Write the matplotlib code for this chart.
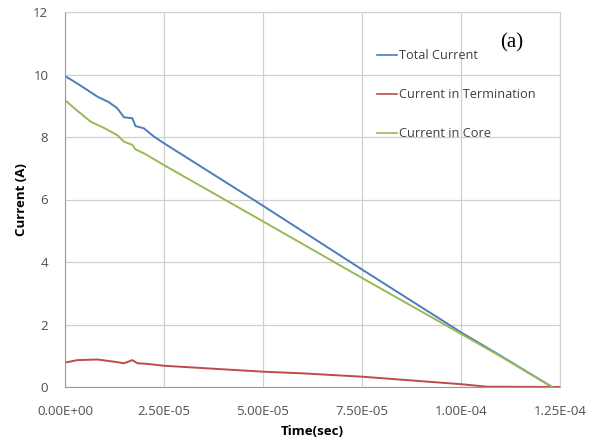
import matplotlib
matplotlib.use('Agg')
import matplotlib.pyplot as plt
import numpy as np

### data ###
t_total = [0, 0.3e-5, 0.82e-5, 1.1e-5, 1.32e-5, 1.49e-5, 1.70e-5, 1.78e-5, 1.99e-5, 2.25e-5, 2.5e-5,
           5.0e-5, 7.5e-5, 1.0e-4, 1.1e-4, 1.23e-4]
i_total = [9.95, 9.72, 9.29, 9.12, 8.92, 8.63, 8.60, 8.35, 8.28, 8.01, 7.80,
           5.80, 3.76, 1.75, 1.00, 0.0]

t_core = [0, 0.3e-5, 0.65e-5, 1.0e-5, 1.32e-5, 1.49e-5, 1.70e-5, 1.78e-5, 1.99e-5, 2.5e-5,
          5.0e-5, 7.5e-5, 1.0e-4, 1.1e-4, 1.23e-4]
i_core = [9.18, 8.85, 8.49, 8.28, 8.06, 7.85, 7.75, 7.60, 7.48, 7.10,
          5.30, 3.49, 1.70, 0.98, 0.0]

t_term = [0, 0.31e-5, 0.82e-5, 1.24e-5, 1.49e-5, 1.70e-5, 1.83e-5, 2.08e-5, 2.5e-5,
          5.0e-5, 5.95e-5, 7.5e-5, 1.0e-4, 1.065e-4, 1.25e-4]
i_term = [0.78, 0.86, 0.88, 0.81, 0.76, 0.86, 0.76, 0.74, 0.68,
          0.49, 0.44, 0.33, 0.09, 0.01, 0.0]

labels = ['Total Current', 'Current in Termination', 'Current in Core']
xticks = [0, 2.5e-5, 5e-5, 7.5e-5, 1e-4, 1.25e-4]
xticklabels = ['0.00E+00', '2.50E-05', '5.00E-05', '7.50E-05', '1.00E-04', '1.25E-04']
yticks = [0, 2, 4, 6, 8, 10, 12]

c_blue = '#4a7ebb'
c_red = '#be4b48'
c_green = '#98b954'

plt.rcParams['font.family'] = ['Open Sans', 'DejaVu Sans']

fig = plt.figure(figsize=(5.97, 4.41), dpi=100)
ax = fig.add_axes([65/597., 1-387/441., (560-65)/597., (387-12)/441.])

l1, = ax.plot(t_total, i_total, color=c_blue, linewidth=1.4)
l2, = ax.plot(t_term, i_term, color=c_red, linewidth=1.4)
l3, = ax.plot(t_core, i_core, color=c_green, linewidth=1.4)

ax.set_xlim(0, 1.25e-4)
ax.set_ylim(0, 12)
ax.set_xticks(xticks)
ax.set_xticklabels(xticklabels)
ax.set_yticks(yticks)
ax.grid(True, color='#d0d0d0', linewidth=0.9)
ax.set_axisbelow(True)
for s in ['top', 'right']:
    ax.spines[s].set_color('#d0d0d0')
for s in ['left', 'bottom']:
    ax.spines[s].set_color('#9a9a9a')
ax.tick_params(axis='both', length=0, labelsize=9.5, labelcolor='#505050')
ax.tick_params(axis='x', pad=13)
ax.tick_params(axis='y', pad=12)

ax.set_xlabel('Time(sec)', fontsize=9.5, fontweight='bold', labelpad=5)
ax.set_ylabel('Current (A)', fontsize=9.5, fontweight='bold', labelpad=4)

leg = ax.legend([l1, l2, l3], labels, loc='upper left', bbox_to_anchor=(0.62, 0.915),
                frameon=False, fontsize=9.2, handlelength=1.6, handletextpad=0.1,
                labelspacing=2.05, borderaxespad=0)
for txt in leg.get_texts():
    txt.set_color('#404040')
for h in leg.legend_handles:
    h.set_linewidth(1.2)

ax.text(0.925, 0.918, '(a)', transform=ax.transAxes, fontsize=15,
        family='Liberation Serif', ha='right', va='center')

fig.savefig('out.png', dpi=100)
